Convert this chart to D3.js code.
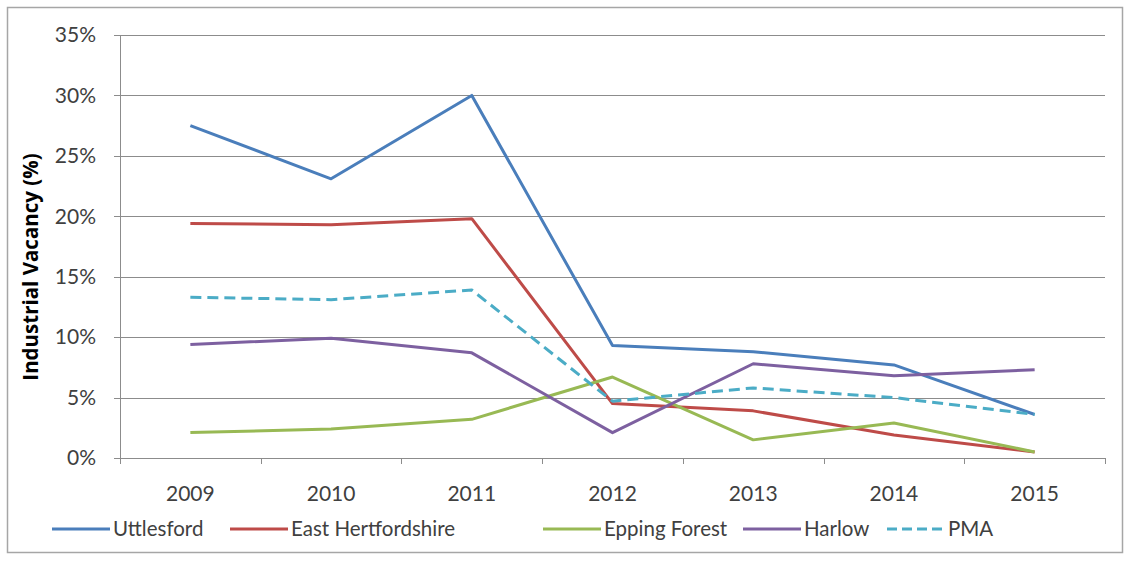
<!DOCTYPE html>
<html><head><meta charset="utf-8">
<script src="https://cdn.jsdelivr.net/npm/d3@7"></script>
<style>body{margin:0;background:#fff}svg{display:block}text{font-family:Lato,"Open Sans",sans-serif}</style>
</head><body><svg id="c" width="1131" height="561"></svg>
<script>
const years = ["2009","2010","2011","2012","2013","2014","2015"];
const yTicks = [0,5,10,15,20,25,30,35];
const seriesNames = ["Uttlesford","East Hertfordshire","Epping Forest","Harlow","PMA"];
const uttlesford = [27.5,23.1,30.0,9.3,8.8,7.7,3.6];
const eastHerts = [19.4,19.3,19.8,4.5,3.9,1.9,0.5];
const eppingForest = [2.1,2.4,3.2,6.7,1.5,2.9,0.5];
const harlow = [9.4,9.9,8.7,2.1,7.8,6.8,7.3];
const pma = [13.3,13.1,13.9,4.7,5.8,5.0,3.6];
const colors = ["#4A7EBB","#BE4B48","#98B954","#7D60A0","#4BACC6"];
const allSeries = [uttlesford,eastHerts,eppingForest,harlow,pma];

const svg = d3.select("#c");
svg.append("rect").attr("x",7.5).attr("y",7.5).attr("width",1115).attr("height",545)
  .attr("fill","#fff").attr("stroke","#a6a6a6").attr("stroke-width",1.5);

const L=120, R=1105, T=35, B=458;
const x = d3.scaleBand().domain(years).range([L,R]);
const y = d3.scaleLinear().domain([0,35]).range([B,T]);

svg.append("g").selectAll("line").data(yTicks).join("line")
  .attr("x1",L-6).attr("x2",R).attr("y1",d=>Math.round(y(d))+0.5).attr("y2",d=>Math.round(y(d))+0.5)
  .attr("stroke","#8c8c8c").attr("stroke-width",1);
svg.append("line").attr("x1",L+0.5).attr("x2",L+0.5).attr("y1",T).attr("y2",B+1).attr("stroke","#8c8c8c");
const xt = years.map(d=>x(d)).concat([R]);
svg.append("g").selectAll("line").data(xt).join("line")
  .attr("x1",d=>Math.round(d)+0.5).attr("x2",d=>Math.round(d)+0.5).attr("y1",B).attr("y2",B+6)
  .attr("stroke","#8c8c8c");
svg.append("g").selectAll("text").data(yTicks).join("text")
  .attr("x",L-24).attr("y",d=>y(d)).attr("dy","0.35em").attr("text-anchor","end")
  .attr("font-size",21).attr("fill","#404040").text(d=>d+"%");
svg.append("g").selectAll("text").data(years).join("text")
  .attr("x",d=>x(d)+x.bandwidth()/2).attr("y",B+43).attr("text-anchor","middle")
  .attr("font-size",21).attr("fill","#404040").text(d=>d);
svg.append("text").attr("transform",`translate(31,267) rotate(-90)`)
  .attr("text-anchor","middle").attr("dy","0.35em").attr("font-size",20.5).attr("font-weight","bold").attr("fill","#000")
  .style("font-family","'Open Sans',sans-serif")
  .text("Industrial Vacancy (%)");

const line = d3.line().x((d,i)=>x(years[i])+x.bandwidth()/2).y(d=>y(d));
allSeries.forEach((s,k)=>{
  svg.append("path").attr("d",line(s)).attr("fill","none").attr("stroke",colors[k])
    .attr("stroke-width",3).attr("stroke-linejoin","round")
    .attr("stroke-dasharray",k===4?"11,6":null);
});

const legX = [52,230,543,743,887];
const lg = svg.append("g");
seriesNames.forEach((n,k)=>{
  lg.append("line").attr("x1",legX[k]).attr("x2",legX[k]+58).attr("y1",529).attr("y2",529)
    .attr("stroke",colors[k]).attr("stroke-width",3).attr("stroke-dasharray",k===4?"10,5":null);
  lg.append("text").attr("x",legX[k]+61).attr("y",529).attr("dy","0.35em")
    .attr("font-size",20.5).attr("fill","#404040").text(n);
});
</script></body></html>
